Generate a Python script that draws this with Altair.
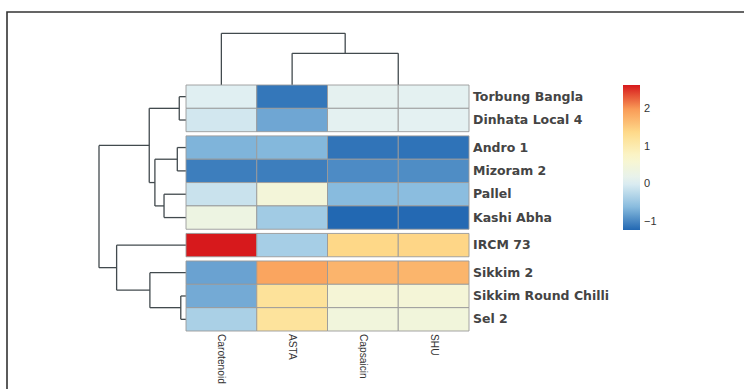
import altair as alt
import pandas as pd
import numpy as np

# ---------------- data ----------------
rows = ["Torbung Bangla", "Dinhata Local 4", "Andro 1", "Mizoram 2", "Pallel",
        "Kashi Abha", "IRCM 73", "Sikkim 2", "Sikkim Round Chilli", "Sel 2"]
cols = ["Carotenoid", "ASTA", "Capsaicin", "SHU"]

carotenoid = [0.05, -0.05, -0.65, -1.05, -0.12, 0.35, 2.64, -0.78, -0.72, -0.35]
asta       = [-1.10, -0.75, -0.62, -1.05, 0.50, -0.42, -0.38, 1.90, 1.22, 1.20]
capsaicin  = [0.12, 0.10, -1.12, -0.95, -0.60, -1.21, 1.40, 1.75, 0.55, 0.45]
shu        = [0.11, 0.09, -1.13, -0.94, -0.58, -1.20, 1.42, 1.74, 0.54, 0.46]

row_groups = [0, 0, 1, 1, 1, 1, 2, 3, 3, 3]   # cutree groups (gaps between)

# row linkage: (child a, child b, height); leaves 0..9, merges numbered 10.. in order
row_merges = [
    (0, 1, 0.31),    # 10
    (2, 3, 0.40),    # 11
    (4, 5, 1.01),    # 12
    (11, 12, 1.43),  # 13
    (10, 13, 1.69),  # 14
    (8, 9, 0.24),    # 15
    (7, 15, 1.66),   # 16
    (6, 16, 3.19),   # 17
    (14, 17, 4.00),  # 18
]
# column linkage: leaves 0..3, merges numbered 4..
col_merges = [
    (2, 3, 0.0),     # 4
    (1, 4, 2.45),    # 5
    (0, 5, 4.00),    # 6
]

palette = ["#2268B2", "#8DBFE0", "#E3F1F3", "#FBF7CC", "#FEDC8C", "#F99B57", "#D7191C"]
legend_values = [-1, 0, 1, 2]

# ---------------- layout constants ----------------
GAP = 0.18
n_rows = len(rows)
total_rows = n_rows + GAP * max(row_groups)

col_scale = alt.Scale(domain=[0, len(cols)], range=[186, 469], nice=False, zero=False)
row_scale = alt.Scale(domain=[0, total_rows], range=[85, 331], nice=False, zero=False)
rowtree_scale = alt.Scale(domain=[0, 4.0], range=[186, 99], nice=False, zero=False)
coltree_scale = alt.Scale(domain=[0, 4.0], range=[85, 33.3], nice=False, zero=False)

# ---------------- tables ----------------
values = {"Carotenoid": carotenoid, "ASTA": asta, "Capsaicin": capsaicin, "SHU": shu}
row_top = [i + GAP * g for i, g in enumerate(row_groups)]
heat_records = []
for i, r in enumerate(rows):
    for j, c in enumerate(cols):
        heat_records.append(dict(row=r, col=c, x=j, x2=j + 1,
                                 y=row_top[i], y2=row_top[i] + 1,
                                 value=values[c][i]))
df_heat = pd.DataFrame(heat_records)

all_vals = carotenoid + asta + capsaicin + shu
vmin, vmax = min(all_vals), max(all_vals)
stops = list(np.linspace(vmin, vmax, len(palette)))


def dendro_segments(leaf_pos, merges):
    pos = list(leaf_pos)
    hgt = [0.0] * len(leaf_pos)
    segs = []
    for a, b, h in merges:
        pa, pb = pos[a], pos[b]
        segs.append(dict(p=pa, p2=pa, h=hgt[a], h2=h))
        segs.append(dict(p=pb, p2=pb, h=hgt[b], h2=h))
        segs.append(dict(p=pa, p2=pb, h=h, h2=h))
        pos.append((pa + pb) / 2)
        hgt.append(h)
    df = pd.DataFrame(segs)
    # zero-height merges collapse onto the heatmap edge and are not drawn
    return df[(df["h"] > 0) | (df["h2"] > 0)]


row_centers = [t + 0.5 for t in row_top]
col_centers = [j + 0.5 for j in range(len(cols))]
df_rowtree = dendro_segments(row_centers, row_merges)
df_coltree = dendro_segments(col_centers, col_merges)

df_rowlab = pd.DataFrame(dict(name=rows, yc=row_centers, xr=[len(cols)] * n_rows))
df_collab = pd.DataFrame(dict(name=cols, xc=col_centers, yb=[total_rows] * len(cols)))

# ---------------- layers ----------------
frame = alt.Chart(pd.DataFrame({"a": [0]})).mark_rect(
    fillOpacity=0, stroke="#333333", strokeWidth=1.6
).encode(x=alt.value(7), x2=alt.value(900), y=alt.value(12), y2=alt.value(700))

heat = alt.Chart(df_heat).mark_rect(stroke="#9a9a9a", strokeWidth=0.9).encode(
    x=alt.X("x:Q", scale=col_scale, axis=None),
    x2="x2:Q",
    y=alt.Y("y:Q", scale=row_scale, axis=None),
    y2="y2:Q",
    color=alt.Color(
        "value:Q",
        scale=alt.Scale(domain=stops, range=palette, interpolate="rgb"),
        legend=alt.Legend(
            title=None, orient="none", legendX=623, legendY=85, direction="vertical",
            gradientLength=145, gradientThickness=17, gradientStrokeWidth=0,
            values=legend_values, labelFontSize=11, labelFont="Liberation Sans",
            labelColor="#333333", labelOffset=4, labelOverlap=False, padding=0,
        ),
    ),
)

rowtree = alt.Chart(df_rowtree).mark_rule(color="#424a4e", strokeWidth=1.3).encode(
    x=alt.X("h:Q", scale=rowtree_scale, axis=None),
    x2="h2:Q",
    y=alt.Y("p:Q", scale=row_scale, axis=None),
    y2="p2:Q",
)

coltree = alt.Chart(df_coltree).mark_rule(color="#424a4e", strokeWidth=1.3).encode(
    x=alt.X("p:Q", scale=col_scale, axis=None),
    x2="p2:Q",
    y=alt.Y("h:Q", scale=coltree_scale, axis=None),
    y2="h2:Q",
)

rowlabels = alt.Chart(df_rowlab).mark_text(
    align="left", baseline="middle", dx=4, font="DejaVu Sans", fontSize=12.5,
    fontWeight="bold", color="#444444"
).encode(
    x=alt.X("xr:Q", scale=col_scale, axis=None),
    y=alt.Y("yc:Q", scale=row_scale, axis=None),
    text="name:N",
)

collabels = alt.Chart(df_collab).mark_text(
    angle=90, align="left", baseline="middle", dx=3,
    font="Liberation Sans", fontSize=10.2, color="#333333"
).encode(
    x=alt.X("xc:Q", scale=col_scale, axis=None),
    y=alt.Y("yb:Q", scale=row_scale, axis=None),
    text="name:N",
)

chart = alt.layer(frame, rowtree, coltree, heat, rowlabels, collabels).resolve_scale(
    x="independent", y="independent"
).properties(
    width=744, height=389, padding=0,
    autosize=alt.AutoSizeParams(type="none"),
    background="white",
).configure_view(strokeWidth=0)

chart.save("out.html", embed_options={"renderer": "svg", "actions": False})
